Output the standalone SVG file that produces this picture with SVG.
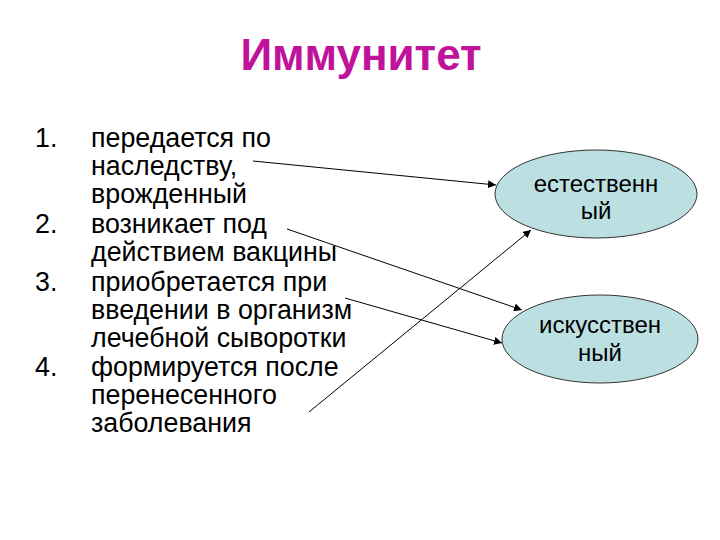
<svg xmlns="http://www.w3.org/2000/svg" width="720" height="540" viewBox="0 0 720 540">
<style>
.t{font-family:"Liberation Sans",Arial,sans-serif;font-size:26.8px;fill:#000}
.n{font-family:"Liberation Sans",Arial,sans-serif;font-size:24px;fill:#000;text-anchor:middle}
.e{fill:#BCDFE2;stroke:#333;stroke-width:1}
.c{stroke:#000;stroke-width:1;fill:none;marker-end:url(#ah)}
</style>
<defs>
<marker id="ah" viewBox="0 0 10 10" refX="10" refY="5" markerWidth="8" markerHeight="8" markerUnits="userSpaceOnUse" orient="auto">
<path d="M0,0 L10,5 L0,10 z" fill="#000"/>
</marker>
</defs>
<rect width="720" height="540" fill="#fff"/>
<text x="361" y="70" text-anchor="middle" font-family="Liberation Sans,Arial,sans-serif" font-size="44" font-weight="bold" fill="#C0129A">Иммунитет</text>
<g id="list">
<text class="t" x="35" y="147">1.</text>
<text class="t" x="91" y="147">передается по</text>
<text class="t" x="91" y="175">наследству,</text>
<text class="t" x="91" y="203">врожденный</text>
<text class="t" x="35" y="233">2.</text>
<text class="t" x="91" y="233">возникает под</text>
<text class="t" x="91" y="261">действием вакцины</text>
<text class="t" x="35" y="291">3.</text>
<text class="t" x="91" y="291">приобретается при</text>
<text class="t" x="91" y="319">введении в организм</text>
<text class="t" x="91" y="347">лечебной сыворотки</text>
<text class="t" x="35" y="376">4.</text>
<text class="t" x="91" y="376">формируется после</text>
<text class="t" x="91" y="404">перенесенного</text>
<text class="t" x="91" y="432">заболевания</text>
</g>
<g id="natural">
<ellipse class="e" cx="596" cy="194" rx="101" ry="44"/>
<text class="n" x="596" y="192">естественн</text>
<text class="n" x="596" y="219">ый</text>
</g>
<g id="artificial">
<ellipse class="e" cx="600" cy="339" rx="98" ry="44"/>
<text class="n" x="600" y="333">искусствен</text>
<text class="n" x="600" y="361">ный</text>
</g>
<g id="connectors">
<line class="c" x1="253" y1="161" x2="496" y2="185"/>
<line class="c" x1="287" y1="229" x2="522" y2="310"/>
<line class="c" x1="345" y1="298" x2="502" y2="343"/>
<line class="c" x1="309" y1="412" x2="531" y2="230"/>
</g>
</svg>
